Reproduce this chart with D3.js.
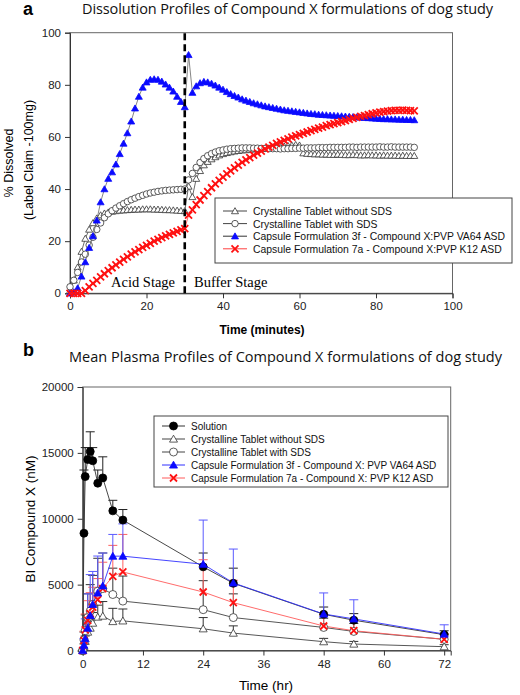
<!DOCTYPE html>
<html><head><meta charset="utf-8">
<script src="https://cdn.jsdelivr.net/npm/d3@7"></script>
<style>body{margin:0;background:#fff;} svg{display:block}</style>
</head><body>
<svg id="c" width="520" height="695"></svg>
<script>
// ---------- Panel a data (dissolution, % of label claim) ----------
const timeA = [0,1,2,3,4,5,6,7,8,9,10,11,12,13,14,15,16,17,18,19,20,21,22,23,24,25,26,27,28,29,30,
  31,32,33,34,35,36,37,38,39,40,41,42,43,44,45,46,47,48,49,50,51,52,53,54,55,56,57,58,59,60,
  61,62,63,64,65,66,67,68,69,70,71,72,73,74,75,76,77,78,79,80,81,82,83,84,85,86,87,88,89,90];
const tabNoSDS = [1,5,10,16,21,24.5,27,28.8,30,30.7,31.1,31.4,31.6,31.8,31.9,32,32.1,32.2,32.2,32.3,32.3,32.3,32.2,32.2,32.1,32,32,31.9,31.8,31.7,31.6,
  41,37,44,47,49.2,50.5,51.5,52.3,53,53.5,53.9,54.2,54.5,54.7,54.9,55,55.2,55.3,55.4,55.5,55.6,55.7,55.8,56,56.2,56.4,56.6,56.8,57,56.8,
  53.8,53.6,53.5,53.4,53.4,53.3,53.3,53.2,53.2,53.3,53.2,53.1,53.1,53.2,53.1,53,53,53.1,53,53,52.9,53,52.9,52.9,52.9,52.8,52.9,52.8,52.8,52.8];
const tabSDS = [2.5,5,8,12,15,18.5,21.5,24.5,27,29,30.5,31.7,32.7,33.6,34.4,35.2,35.9,36.5,37.1,37.6,38.1,38.5,38.8,39.1,39.3,39.5,39.6,39.7,39.8,39.9,40,
  43.5,46,48.3,50.2,51.7,52.8,53.6,54.2,54.7,55,55.3,55.5,55.6,55.7,55.8,55.8,55.8,55.7,55.7,55.6,55.6,55.5,55.5,55.5,55.4,55.5,55.5,55.6,55.6,55.7,
  55.7,55.8,55.8,55.8,55.9,55.9,55.9,56,56,56,56,56,56.1,56.1,56,56.1,56.1,56.1,56.1,56.1,56.2,56.1,56.1,56.2,56.1,56.1,56.1,56.1,56.1,56];
const cap3f = [0,0.5,2,6.5,12,17.5,22,28,35,40,44,46.5,49.5,53.5,57.5,61.5,66,71,75.5,79,81,82,82.2,82,81.3,80.2,79,77.5,75.5,73.5,71.5,
  91.5,77,79.5,80.7,81.2,81,80.5,79.8,79,78.2,77.3,76.5,75.8,75.2,74.5,74,73.5,73,72.6,72.2,71.8,71.5,71.2,70.9,70.6,70.3,70.1,69.9,69.7,69.5,
  69.3,69.1,68.9,68.8,68.6,68.5,68.4,68.3,68.2,68.1,68,67.9,67.8,67.7,67.6,67.5,67.4,67.3,67.2,67.1,67,66.9,66.9,66.8,66.8,66.7,66.7,66.6,66.6,66.5];
const cap7a = [0,0,0,0,1,2.5,3.8,5,6.3,7.5,8.7,9.8,10.9,12,13,14,15,15.9,16.8,17.6,18.4,19.2,20,20.7,21.4,22,22.6,23.2,23.8,24.3,24.8,
  30,32,34,35.8,37.5,39,40.5,42,43.3,44.6,45.8,47,48.1,49.2,50.2,51.2,52.1,53,53.8,54.6,55.4,56.1,56.8,57.5,58.1,58.7,59.3,59.9,60.4,60.9,
  61.4,61.9,62.4,62.9,63.4,63.8,64.3,64.7,65.1,65.5,65.9,66.3,66.7,67.1,67.5,67.9,68.2,68.6,68.9,69.2,69.5,69.7,69.9,70.1,70.2,70.2,70.3,70.2,70.1,70];
const ticksAX = [0,20,40,60,80,100];
const ticksAY = [0,20,40,60,80,100];
const stageSwitch = 30;
const legendA = ["Crystalline Tablet without SDS","Crystalline Tablet with SDS",
  "Capsule Formulation 3f - Compound X:PVP VA64 ASD","Capsule Formulation 7a - Compound X:PVP K12 ASD"];

// ---------- Panel b data (plasma, nM) ----------
const timeB = [0,0.25,0.5,1,1.5,2,3,4,6,8,24,30,48,54,72];
const solution    = [0,8900,13200,14500,15100,14400,12700,13100,10600,9900,6350,5100,2750,2300,1200];
const solutionSD  = [0,4800,2200,900,1500,1000,1000,1600,800,800,1050,1150,550,500,300];
const tabNoSDSb   = [0,300,700,1400,1700,2080,2540,2615,2200,2250,1650,1320,670,490,290];
const tabNoSDSbSD = [0,200,400,600,700,800,900,1100,1000,900,850,550,250,200,150];
const tabSDSb     = [0,800,1500,2500,3000,3500,4500,4700,4250,3750,3100,2500,1750,1450,850];
const tabSDSbSD   = [0,600,1200,1800,2000,2200,2500,2700,2000,1900,2200,1800,700,600,400];
const cap3fb      = [0,400,900,1700,2660,3500,4370,4900,7160,7160,6550,5130,2770,2400,1250];
const cap3fbSD    = [0,500,1500,2600,3100,2500,2800,2500,1650,2450,3350,2570,1600,1450,700];
const cap7ab      = [0,760,1570,2280,2790,3300,3860,4700,5630,5960,4440,3630,1860,1500,850];
const cap7abSD    = [0,700,1200,1500,1600,1500,1600,2000,2350,2850,2450,1700,850,800,450];
const ticksBX = [0,12,24,36,48,60,72];
const ticksBY = [0,5000,10000,15000,20000];
const legendB = ["Solution","Crystalline Tablet without SDS","Crystalline Tablet with SDS",
  "Capsule Formulation 3f - Compound X: PVP VA64 ASD","Capsule Formulation 7a - Compound X: PVP K12 ASD"];

// ---------- drawing ----------
const svg = d3.select('#c');
const SANS = "'Liberation Sans', Arial, sans-serif";
const TITLE = "'Open Sans', 'Noto Sans', sans-serif";
const BLUE = "#0a0aff", RED = "#ff1010";

function marker(g, type, x, y, s, fill, stroke) {
  if (type === 'tri') {
    g.append('path').attr('d', d3.symbol(d3.symbolTriangle, s * s * 0.433)())
      .attr('transform', `translate(${x},${y + s * 0.1})`)
      .attr('fill', fill).attr('stroke', stroke).attr('stroke-width', 0.8);
  } else if (type === 'circ') {
    g.append('circle').attr('cx', x).attr('cy', y).attr('r', s / 2)
      .attr('fill', fill).attr('stroke', stroke).attr('stroke-width', 0.8);
  } else {
    const h = s / 2;
    g.append('path').attr('d', `M${x-h},${y-h}L${x+h},${y+h}M${x-h},${y+h}L${x+h},${y-h}`)
      .attr('stroke', stroke).attr('stroke-width', 1.8).attr('fill', 'none');
  }
}

// ===== Panel a =====
const xA = d3.scaleLinear().domain([0, 100]).range([70, 452.5]);
const yA = d3.scaleLinear().domain([0, 100]).range([293.3, 32.7]);
const gA = svg.append('g');

svg.append('text').attr('x', 23).attr('y', 15).text('a')
  .attr('font-family', SANS).attr('font-weight', 'bold').attr('font-size', 18);
svg.append('text').attr('x', 82).attr('y', 14).text('Dissolution Profiles of Compound X formulations of dog study')
  .attr('font-family', TITLE).attr('font-size', 14.5).attr('textLength', 411).attr('fill', '#111');

gA.append('rect').attr('x', xA(0)).attr('y', yA(100)).attr('width', xA(100) - xA(0)).attr('height', yA(0) - yA(100))
  .attr('fill', 'none').attr('stroke', '#666').attr('stroke-width', 1);

const axA = gA.append('g').attr('transform', `translate(0,${yA(0)})`)
  .call(d3.axisBottom(xA).tickValues(ticksAX).tickFormat(d3.format('d')).tickSize(5).tickPadding(4));
const ayA = gA.append('g').attr('transform', `translate(${xA(0)},0)`)
  .call(d3.axisLeft(yA).tickValues(ticksAY).tickFormat(d3.format('d')).tickSize(5).tickPadding(4));
[axA, ayA].forEach(a => {
  a.select('.domain').attr('stroke', '#333');
  a.selectAll('.tick line').attr('stroke', '#333');
  a.selectAll('text').attr('font-family', SANS).attr('font-size', 11.5).attr('fill', '#222');
});

const lineA = d3.line().x((d, i) => xA(timeA[i])).y(d => yA(d));
const seriesA = [
  {v: tabNoSDS, type: 'tri', fill: '#fff', stroke: '#333', line: '#444'},
  {v: tabSDS, type: 'circ', fill: '#fff', stroke: '#333', line: '#444'},
  {v: cap3f, type: 'tri', fill: BLUE, stroke: BLUE, line: '#666'},
  {v: cap7a, type: 'x', fill: 'none', stroke: RED, line: '#ff4040'}
];
seriesA.forEach(s => {
  gA.append('path').datum(s.v).attr('d', lineA).attr('fill', 'none').attr('stroke', s.line).attr('stroke-width', 0.8);
  const mg = gA.append('g');
  s.v.forEach((d, i) => marker(mg, s.type, xA(timeA[i]), yA(d), s.type === 'circ' ? 6.5 : 7, s.fill, s.stroke));
});

gA.append('line').attr('x1', xA(stageSwitch)).attr('x2', xA(stageSwitch)).attr('y1', yA(0)).attr('y2', yA(100))
  .attr('stroke', '#000').attr('stroke-width', 2.6).attr('stroke-dasharray', '7,4');

gA.append('text').attr('x', 111).attr('y', 287).text('Acid Stage')
  .attr('font-family', "'Liberation Serif', serif").attr('font-size', 14.5);
gA.append('text').attr('x', 194).attr('y', 287).text('Buffer Stage')
  .attr('font-family', "'Liberation Serif', serif").attr('font-size', 14.5);

svg.append('text').attr('transform', 'translate(13,163) rotate(-90)').attr('text-anchor', 'middle')
  .text('% Dissolved').attr('font-family', SANS).attr('font-size', 12.5);
svg.append('text').attr('transform', 'translate(33,160) rotate(-90)').attr('text-anchor', 'middle')
  .text('(Label Claim -100mg)').attr('font-family', SANS).attr('font-size', 12.5);
svg.append('text').attr('x', 262).attr('y', 334).attr('text-anchor', 'middle')
  .text('Time (minutes)').attr('font-family', SANS).attr('font-size', 12).attr('font-weight', 'bold');

// legend a
const lgA = svg.append('g');
lgA.append('rect').attr('x', 215).attr('y', 198).attr('width', 297).attr('height', 65)
  .attr('fill', '#fff').attr('stroke', '#444').attr('stroke-width', 1);
legendA.forEach((t, i) => {
  const y = 211 + i * 12.6, s = seriesA[i];
  lgA.append('line').attr('x1', 223).attr('x2', 247).attr('y1', y).attr('y2', y).attr('stroke', s.line === '#666' ? '#333' : s.line).attr('stroke-width', 1);
  marker(lgA, s.type, 235, y, s.type === 'circ' ? 6.5 : 7, s.fill, s.stroke);
  lgA.append('text').attr('x', 253).attr('y', y + 4).text(t).attr('font-family', SANS).attr('font-size', 10.4).attr('fill', '#111');
});

// ===== Panel b =====
const xB = d3.scaleLinear().domain([0, 73.3]).range([82.7, 450.7]);
const yB = d3.scaleLinear().domain([0, 20000]).range([650.5, 387]);
const gB = svg.append('g');

svg.append('text').attr('x', 23).attr('y', 356).text('b')
  .attr('font-family', SANS).attr('font-weight', 'bold').attr('font-size', 18);
svg.append('text').attr('x', 69).attr('y', 362).text('Mean Plasma Profiles of Compound X formulations of dog study')
  .attr('font-family', TITLE).attr('font-size', 14.5).attr('textLength', 433).attr('fill', '#111');

gB.append('rect').attr('x', xB(0)).attr('y', yB(20000)).attr('width', xB(73.3) - xB(0)).attr('height', yB(0) - yB(20000))
  .attr('fill', 'none').attr('stroke', '#666').attr('stroke-width', 1);
const axB = gB.append('g').attr('transform', `translate(0,${yB(0)})`)
  .call(d3.axisBottom(xB).tickValues(ticksBX).tickFormat(d3.format('d')).tickSize(5).tickPadding(4));
const ayB = gB.append('g').attr('transform', `translate(${xB(0)},0)`)
  .call(d3.axisLeft(yB).tickValues(ticksBY).tickFormat(d3.format('d')).tickSize(5).tickPadding(4));
[axB, ayB].forEach(a => {
  a.select('.domain').attr('stroke', '#333');
  a.selectAll('.tick line').attr('stroke', '#333');
  a.selectAll('text').attr('font-family', SANS).attr('font-size', 11.5).attr('fill', '#222');
});

const seriesB = [
  {v: solution, sd: solutionSD, type: 'circ', fill: '#000', stroke: '#000', line: '#333', err: '#222', size: 8},
  {v: tabNoSDSb, sd: tabNoSDSbSD, type: 'tri', fill: '#fff', stroke: '#333', line: '#444', err: '#333', size: 8},
  {v: tabSDSb, sd: tabSDSbSD, type: 'circ', fill: '#fff', stroke: '#333', line: '#444', err: '#333', size: 8},
  {v: cap3fb, sd: cap3fbSD, type: 'tri', fill: BLUE, stroke: BLUE, line: '#3030ff', err: '#5a5aff', size: 8},
  {v: cap7ab, sd: cap7abSD, type: 'x', fill: 'none', stroke: RED, line: '#ff5a5a', err: '#ff6060', size: 7}
];
const lineB = d3.line().x((d, i) => xB(timeB[i])).y(d => yB(d));
const drawOrder = [0, 1, 2, 4, 3];
drawOrder.forEach(k => {
  const s = seriesB[k];
  const eg = gB.append('g');
  s.v.forEach((d, i) => {
    if (!s.sd[i]) return;
    const x = xB(timeB[i]), y0 = yB(d), y1 = yB(d + s.sd[i]);
    eg.append('line').attr('x1', x).attr('x2', x).attr('y1', y0).attr('y2', y1).attr('stroke', s.err).attr('stroke-width', 1);
    eg.append('line').attr('x1', x - 4.5).attr('x2', x + 4.5).attr('y1', y1).attr('y2', y1).attr('stroke', s.err).attr('stroke-width', 1);
  });
});
drawOrder.forEach(k => {
  const s = seriesB[k];
  gB.append('path').datum(s.v).attr('d', lineB).attr('fill', 'none').attr('stroke', s.line).attr('stroke-width', 0.9);
});
drawOrder.forEach(k => {
  const s = seriesB[k];
  const mg = gB.append('g');
  s.v.forEach((d, i) => marker(mg, s.type, xB(timeB[i]), yB(d), s.size, s.fill, s.stroke));
});

svg.append('text').attr('transform', 'translate(35,519) rotate(-90)').attr('text-anchor', 'middle')
  .text('BI Compound X (nM)').attr('font-family', SANS).attr('font-size', 13.5);
svg.append('text').attr('x', 266).attr('y', 690).attr('text-anchor', 'middle')
  .text('Time (hr)').attr('font-family', SANS).attr('font-size', 13.5);

// legend b
const lgB = svg.append('g');
lgB.append('rect').attr('x', 154).attr('y', 416).attr('width', 294).attr('height', 71)
  .attr('fill', '#fff').attr('stroke', '#444').attr('stroke-width', 1);
legendB.forEach((t, i) => {
  const y = 426 + i * 13, s = seriesB[i];
  lgB.append('line').attr('x1', 162).attr('x2', 185).attr('y1', y).attr('y2', y).attr('stroke', s.line).attr('stroke-width', 1);
  marker(lgB, s.type, 173.5, y, s.size, s.fill, s.stroke);
  lgB.append('text').attr('x', 191).attr('y', y + 4).text(t).attr('font-family', SANS).attr('font-size', 10).attr('fill', '#111');
});
</script>
</body></html>
